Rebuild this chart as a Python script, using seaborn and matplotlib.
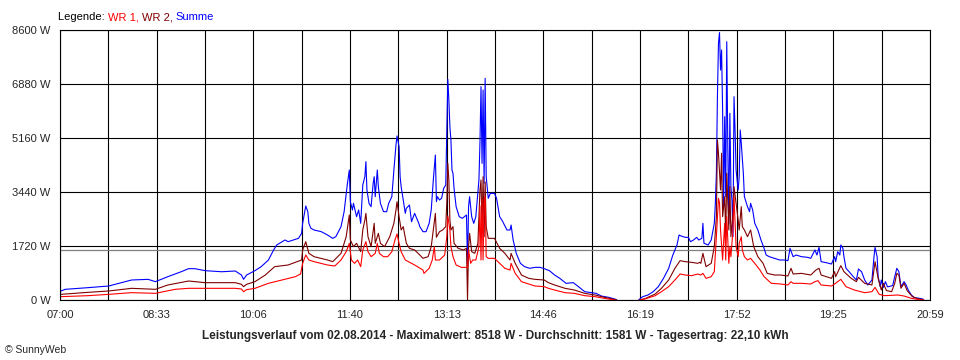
import numpy as np
import pandas as pd
import matplotlib
matplotlib.use('Agg')
import matplotlib.pyplot as plt
import seaborn as sns

# Leistungsverlauf 02.08.2014, values
sum_time = ["07:01", "07:05", "07:27", "07:47", "08:09", "08:25", "08:32", "08:44", "08:57", "09:04",
            "09:10", "09:20", "09:36", "09:49", "09:55", "09:57", "10:00", "10:08", "10:14", "10:21",
            "10:26", "10:29", "10:37", "10:40", "10:50", "10:53", "10:54", "10:56", "10:57", "10:59",
            "11:00", "11:02", "11:05", "11:12", "11:18", "11:23", "11:26", "11:31", "11:34", "11:37",
            "11:39", "11:40", "11:42", "11:43", "11:46", "11:48", "11:50", "11:52", "11:54", "11:55",
            "11:56", "11:58", "12:00", "12:02", "12:03", "12:04", "12:06", "12:07", "12:09", "12:12",
            "12:15", "12:17", "12:20", "12:22", "12:24", "12:25", "12:27", "12:28", "12:29", "12:31",
            "12:33", "12:34", "12:37", "12:39", "12:42", "12:46", "12:47", "12:50", "12:53", "12:56",
            "12:58", "13:00", "13:02", "13:03", "13:04", "13:06", "13:08", "13:10", "13:12", "13:13",
            "13:14", "13:15", "13:16", "13:17", "13:18", "13:19", "13:20", "13:22", "13:25", "13:28",
            "13:32", "13:33", "13:34", "13:35", "13:37", "13:39", "13:41", "13:44", "13:45", "13:46",
            "13:47", "13:48", "13:49", "13:50", "13:51", "13:53", "13:55", "13:59", "14:01", "14:04",
            "14:07", "14:11", "14:14", "14:15", "14:17", "14:20", "14:24", "14:28", "14:33", "14:38",
            "14:43", "14:47", "14:52", "14:57", "15:02", "15:08", "15:15", "15:20", "15:26", "15:33",
            "15:37", "15:42", "15:49", "15:55", "15:57",
            "16:18", "16:19", "16:22", "16:27", "16:32", "16:37", "16:42", "16:47", "16:51", "16:55",
            "16:57", "16:59", "17:03", "17:06", "17:08", "17:11", "17:14", "17:16", "17:19", "17:20",
            "17:21", "17:25", "17:28", "17:31", "17:32", "17:33", "17:34", "17:35", "17:36", "17:37",
            "17:38", "17:39", "17:40", "17:41", "17:42", "17:43", "17:44", "17:45", "17:46", "17:47",
            "17:48", "17:49", "17:50", "17:51", "17:52", "17:54", "17:55", "17:56", "17:57", "17:59",
            "18:00", "18:03", "18:05", "18:06", "18:08", "18:10", "18:13", "18:16", "18:19", "18:21",
            "18:24", "18:29", "18:34", "18:39", "18:42", "18:44", "18:47", "18:50", "18:55", "19:01",
            "19:04", "19:08", "19:10", "19:12", "19:14", "19:19", "19:24", "19:27", "19:28", "19:30",
            "19:32", "19:33", "19:35", "19:36", "19:38", "19:41", "19:45", "19:48", "19:50", "19:53",
            "19:56", "19:59", "20:03", "20:05", "20:06", "20:08", "20:09", "20:11", "20:12", "20:14",
            "20:16", "20:18", "20:21", "20:23", "20:25", "20:27", "20:29", "20:31", "20:34", "20:36",
            "20:38", "20:41", "20:44", "20:49", "20:52", "20:53"]
sum_w = [287, 340, 393, 446, 637, 658, 584, 743, 902, 998,
         998, 934, 900, 924, 796, 658, 796, 934, 1062, 1274,
         1593, 1752, 1911, 1858, 1964, 2123, 2442, 2813, 2994, 2813,
         2442, 2283, 2230, 2176, 2070, 1964, 2017, 2336, 2813, 3663,
         4140, 3132, 2867, 3079, 2654, 2867, 2442, 3663, 3928, 4406,
         3504, 3079, 2973, 3716, 3928, 3291, 4140, 3610, 3079, 2813,
         2813, 3079, 3291, 4140, 4937, 5224, 4884, 3928, 3610, 3185,
         2760, 2920, 3026, 2495, 2760, 2442, 2336, 2176, 2176, 2442,
         2867, 3822, 4618, 3132, 3291, 3185, 3238, 3557, 3663, 5415,
         7028, 6370, 5522, 5096, 4140, 4034, 3557, 2973, 2654, 2601,
         2707, 1100, 2973, 3291, 2654, 2442, 2654, 3822, 4991, 6795,
         4353, 6688, 3716, 7060, 3928, 3238, 3397, 3397, 3238, 2654,
         2495, 2230, 2230, 2389, 1911, 1486, 1168, 1062, 1009, 1040,
         1040, 998, 934, 796, 690, 531, 552, 425, 265, 233,
         212, 127, 85, 32, 0,
         0, 32, 106, 159, 265, 425, 690, 1009, 1433, 1752,
         2070, 2038, 1996, 1996, 1858, 1911, 1996, 1911, 1964, 2442,
         1809, 1752, 1911, 2442, 3079, 4034, 6476, 8175, 8518, 7326,
         7963, 6052, 2973, 5839, 3291, 8228, 4884, 2442, 5946, 3610,
         3185, 2017, 6476, 5415, 4140, 3504, 3928, 5415, 4991, 4034,
         3291, 2973, 2813, 3079, 2867, 2442, 2230, 1911, 1646, 1433,
         1380, 1327, 1274, 1274, 1253, 1646, 1380, 1433, 1380, 1359,
         1327, 1593, 1433, 1677, 1221, 1189, 1146, 1380, 1221, 1539,
         1433, 1752, 1646, 1380, 1009, 902, 743, 637, 987, 902,
         637, 478, 637, 1380, 1677, 1380, 743, 425, 637, 400,
         584, 420, 440, 460, 743, 1009, 902, 425, 584, 478,
         318, 159, 74, 53, 32, 0]

wr1_time = ["07:01", "07:27", "07:47", "08:09", "08:32", "08:51", "09:04", "09:20", "09:49", "09:55",
            "09:57", "10:00", "10:08", "10:21", "10:34", "10:47", "10:52", "10:54", "10:57", "11:00",
            "11:05", "11:18", "11:25", "11:31", "11:36", "11:39", "11:41", "11:44", "11:47", "11:50",
            "11:52", "11:55", "11:57", "12:00", "12:04", "12:06", "12:08", "12:12", "12:16", "12:20",
            "12:23", "12:25", "12:27", "12:29", "12:33", "12:39", "12:42", "12:50", "12:51", "12:56",
            "12:59", "13:01", "13:02", "13:06", "13:11", "13:13", "13:14", "13:16", "13:17", "13:19",
            "13:22", "13:27", "13:33", "13:34", "13:36", "13:38", "13:41", "13:44", "13:45", "13:46",
            "13:47", "13:48", "13:49", "13:50", "13:51", "13:53", "13:59", "14:04", "14:09", "14:14",
            "14:15", "14:19", "14:25", "14:32", "14:38", "14:47", "14:51", "14:57", "15:07", "15:16",
            "15:26", "15:36", "15:45", "15:55",
            "16:19", "16:24", "16:34", "16:40", "16:47", "16:53", "16:58", "17:03", "17:09", "17:15",
            "17:18", "17:20", "17:23", "17:28", "17:31", "17:33", "17:35", "17:36", "17:37", "17:39",
            "17:41", "17:42", "17:43", "17:45", "17:46", "17:47", "17:49", "17:50", "17:52", "17:54",
            "17:55", "17:57", "17:58", "18:00", "18:03", "18:06", "18:10", "18:15", "18:19", "18:26",
            "18:35", "18:42", "18:45", "18:47", "18:55", "19:04", "19:08", "19:11", "19:14", "19:24",
            "19:27", "19:33", "19:38", "19:46", "19:56", "20:03", "20:06", "20:10", "20:15", "20:28",
            "20:34", "20:41", "20:47", "20:53"]
wr1_w = [106, 138, 180, 234, 212, 340, 372, 372, 372, 350,
         265, 330, 372, 531, 637, 743, 828, 1168, 1433, 1274,
         1221, 1115, 1083, 1274, 1539, 1805, 1274, 1168, 1274, 1062,
         1593, 1858, 1539, 1380, 1486, 1805, 1486, 1380, 1380, 1539,
         1911, 2102, 1805, 1539, 1274, 1168, 1115, 955, 849, 1009,
         1274, 1699, 1274, 1274, 1433, 2017, 2680, 2230, 1699, 1380,
         1115, 1040, 1040, 1600, 1168, 1274, 1274, 1699, 3000, 1274,
         3200, 1274, 3100, 3300, 1380, 1327, 1327, 1168, 1009, 955,
         1168, 849, 584, 510, 446, 425, 372, 318, 233, 212,
         138, 106, 53, 0,
         0, 32, 138, 265, 425, 637, 828, 796, 775, 828,
         796, 849, 690, 743, 903, 2017, 3238, 3100, 2230, 1274,
         2442, 1274, 2654, 1168, 1699, 1380, 2230, 3291, 1699, 1380,
         1805, 2017, 1593, 1380, 1274, 1327, 1168, 955, 743, 531,
         510, 478, 584, 531, 531, 510, 584, 616, 478, 446,
         510, 658, 425, 318, 233, 265, 403, 180, 138, 159,
         127, 53, 21, 0]

wr2_time = ["07:01", "07:27", "07:47", "08:09", "08:32", "08:44", "09:04", "09:20", "09:49", "09:55",
            "09:57", "10:00", "10:08", "10:18", "10:27", "10:40", "10:53", "10:54", "10:57", "11:00",
            "11:05", "11:18", "11:23", "11:31", "11:36", "11:39", "11:40", "11:43", "11:46", "11:50",
            "11:52", "11:54", "11:55", "11:57", "12:00", "12:03", "12:04", "12:07", "12:09", "12:13",
            "12:18", "12:22", "12:24", "12:25", "12:27", "12:29", "12:31", "12:34", "12:37", "12:42",
            "12:47", "12:50", "12:55", "12:58", "13:00", "13:02", "13:03", "13:06", "13:09", "13:12",
            "13:13", "13:14", "13:15", "13:16", "13:17", "13:19", "13:20", "13:24", "13:29", "13:32",
            "13:33", "13:34", "13:35", "13:37", "13:40", "13:43", "13:45", "13:46", "13:47", "13:48",
            "13:49", "13:50", "13:51", "13:53", "13:59", "14:04", "14:09", "14:14", "14:15", "14:19",
            "14:25", "14:32", "14:38", "14:47", "14:51", "14:57", "15:07", "15:16", "15:26", "15:36",
            "15:45", "15:57",
            "16:19", "16:24", "16:34", "16:40", "16:47", "16:53", "16:58", "17:03", "17:09", "17:15",
            "17:17", "17:18", "17:20", "17:23", "17:28", "17:31", "17:33", "17:34", "17:35", "17:37",
            "17:38", "17:39", "17:41", "17:42", "17:43", "17:45", "17:46", "17:47", "17:49", "17:50",
            "17:52", "17:54", "17:55", "17:57", "17:58", "18:00", "18:03", "18:06", "18:09", "18:13",
            "18:18", "18:22", "18:29", "18:35", "18:42", "18:45", "18:47", "18:55", "19:04", "19:09",
            "19:12", "19:14", "19:24", "19:27", "19:28", "19:33", "19:36", "19:43", "19:48", "19:50",
            "19:56", "20:03", "20:06", "20:09", "20:12", "20:14", "20:17", "20:22", "20:25", "20:27",
            "20:29", "20:31", "20:34", "20:37", "20:42", "20:47", "20:53"]
wr2_w = [180, 244, 287, 372, 340, 478, 605, 552, 552, 500,
         425, 500, 584, 796, 1062, 1115, 1274, 1593, 1858, 1486,
         1380, 1274, 1221, 1486, 2017, 2707, 1911, 1699, 1805, 1539,
         2230, 2548, 2760, 2017, 1699, 2442, 1805, 2123, 1805, 1699,
         2017, 2442, 2867, 3132, 2654, 2230, 2336, 1805, 1646, 1593,
         1433, 1327, 1380, 1699, 2230, 2760, 1999, 2176, 2230, 2336,
         3079, 4353, 3822, 2548, 2230, 2336, 1805, 1646, 1593, 1646,
         0, 1699, 2123, 1540, 1486, 1805, 3500, 3822, 2230, 3928,
         2017, 3760, 2336, 1964, 1964, 1646, 1486, 1274, 1486, 1168,
         796, 690, 658, 637, 552, 478, 372, 318, 212, 159,
         85, 0,
         0, 42, 191, 372, 637, 1009, 1253, 1221, 1200, 1168,
         1200, 1168, 1486, 1062, 1168, 1699, 2654, 5096, 4671, 3504,
         4671, 2654, 3291, 2017, 4034, 2230, 3610, 2017, 2760, 3610,
         3079, 2548, 2230, 2973, 2336, 2230, 2017, 2230, 1699, 1380,
         1168, 849, 796, 796, 764, 1009, 828, 849, 796, 955,
         1009, 796, 690, 902, 743, 1094, 902, 690, 584, 722,
         531, 478, 1221, 690, 318, 531, 300, 265, 531, 849,
         796, 372, 531, 297, 106, 42, 0]

avg_w = 1581
y_ticks = [0, 1720, 3440, 5160, 6880, 8600]
x_tick_labels = ["07:00", "08:33", "10:06", "11:40", "13:13", "14:46", "16:19", "17:52", "19:25", "20:59"]
start_min, end_min = 7 * 60, 20 * 60 + 59

colors = {'WR 1': '#ff0000', 'WR 2': '#800000', 'Summe': '#0000ff'}


def to_min(t):
    h, m = t.split(':')
    return int(h) * 60 + int(m)


frames = []
for name, times, watts in [('WR 1', wr1_time, wr1_w), ('WR 2', wr2_time, wr2_w), ('Summe', sum_time, sum_w)]:
    d = pd.DataFrame({'minute': [to_min(t) for t in times], 'watt': watts})
    d['series'] = name
    # break the line where the inverters were off (zero, then a long gap)
    d['segment'] = ((d.minute.diff() > 15) & (d.watt.shift() == 0)).cumsum()
    frames.append(d)
df = pd.concat(frames, ignore_index=True)

sns.set_style('white')
plt.rcParams['font.family'] = ['Liberation Sans', 'DejaVu Sans']

fig = plt.figure(figsize=(9.6, 3.6), dpi=100)
ax = fig.add_axes([60 / 960, 60 / 360, 870 / 960, 270 / 360])

sns.lineplot(data=df, x='minute', y='watt', hue='series', units='segment', estimator=None,
             hue_order=['Summe', 'WR 2', 'WR 1'], palette=colors, sort=False,
             linewidth=0.8, legend=False, ax=ax)
ax.axhline(avg_w, color='#808080', linewidth=0.9, zorder=1.5)

# grid: 18 intervals over the day, label every second one
n_int = 2 * (len(x_tick_labels) - 1)
x_ticks = np.linspace(start_min, end_min, n_int + 1)
ax.set_xticks(x_ticks)
labels = []
for i in range(n_int + 1):
    labels.append(x_tick_labels[i // 2] if i % 2 == 0 else '')
ax.set_xticklabels(labels)
ax.set_yticks(y_ticks)
ax.set_yticklabels([f'{v} W' for v in y_ticks])
ax.set_xlim(start_min, end_min)
ax.set_ylim(0, 8600)
ax.grid(True, color='black', linewidth=0.8)
ax.set_axisbelow(True)
ax.set_xlabel('')
ax.set_ylabel('')
for s in ax.spines.values():
    s.set_color('black')
    s.set_linewidth(0.8)
ax.tick_params(direction='out', length=5, width=0.8, color='black', labelsize=8, pad=2)

# coloured legend line at the top
t = fig.text(58 / 960, 1 - 17 / 360, 'Legende: ', fontsize=8, color='black', va='center')
for txt, c in [('WR 1, ', colors['WR 1']), ('WR 2, ', colors['WR 2']), ('Summe', colors['Summe'])]:
    t = ax.annotate(txt, xycoords=t, xy=(1, 0), va='bottom', fontsize=8, color=c,
                    annotation_clip=False)

fig.text(495 / 960, 1 - 336 / 360,
         'Leistungsverlauf vom 02.08.2014 - Maximalwert: 8518 W - Durchschnitt: 1581 W - Tagesertrag: 22,10 kWh',
         ha='center', va='center', fontsize=8.5, fontweight='bold')
fig.text(5 / 960, 1 - 350 / 360, '\u00a9 SunnyWeb', fontsize=7.5, va='center')

fig.savefig('out.png', dpi=100, facecolor='white')
